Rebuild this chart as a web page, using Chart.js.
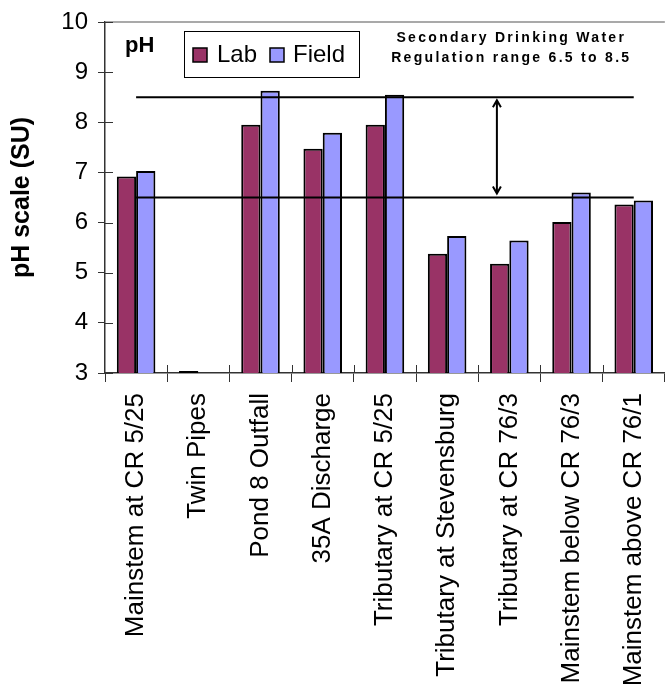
<!DOCTYPE html>
<html>
<head>
<meta charset="utf-8">
<script src="https://cdn.jsdelivr.net/npm/chart.js@4"></script>
<style>
  html, body { margin: 0; padding: 0; background: #fff; overflow: hidden; width: 671px; height: 688px; }
  #wrap { width: 676px; height: 688px; }
</style>
</head>
<body>
<div id="wrap"><canvas id="phChart" width="676" height="688"></canvas></div>
<script>
// sampling sites
const sites = [
    "Mainstem at CR 5/25", "Twin Pipes", "Pond 8 Outfall", "35A Discharge",
    "Tributary at CR 5/25", "Tributary at Stevensburg", "Tributary at CR 76/3",
    "Mainstem below CR 76/3", "Mainstem above CR 76/1"
];
const labPH   = [6.92, 3.04, 7.95, 7.47, 7.95, 5.38, 5.18, 6.01, 6.36];
const fieldPH = [7.03, null, 8.63, 7.79, 8.55, 5.73, 5.64, 6.60, 6.44];
const yTicks = [3, 4, 5, 6, 7, 8, 9, 10];
const rangeLow = 6.5, rangeHigh = 8.5;

const FONT = "'Liberation Sans', Arial, sans-serif";
const AXIS_COLOR = "#333333";

// crossing tick marks, top border, legend box, arrow and notes
const extras = {
    id: "extras",
    afterDatasetsDraw(chart) {
        const ctx = chart.ctx, a = chart.chartArea;
        const x = chart.scales.x, y = chart.scales.y;
        ctx.save();

        // top border of plot area
        ctx.strokeStyle = "#8c8c8c";
        ctx.lineWidth = 1.5;
        ctx.beginPath();
        ctx.moveTo(a.left, a.top);
        ctx.lineTo(a.right, a.top);
        ctx.stroke();

        // inner halves of tick marks
        ctx.strokeStyle = AXIS_COLOR;
        ctx.lineWidth = 1;
        yTicks.forEach(v => {
            const py = Math.round(y.getPixelForValue(v)) + 0.5;
            ctx.beginPath();
            ctx.moveTo(a.left, py);
            ctx.lineTo(a.left + 8, py);
            ctx.stroke();
        });
        for (let i = 1; i < sites.length; i++) {
            const px = Math.round(x.getPixelForValue(i - 0.5)) + 0.5;
            ctx.beginPath();
            ctx.moveTo(px, a.bottom);
            ctx.lineTo(px, a.bottom - 8);
            ctx.stroke();
        }

        // double arrow showing the regulation range
        const ax = x.getPixelForValue(5.8);
        const top = y.getPixelForValue(rangeHigh) + 3;
        const bot = y.getPixelForValue(rangeLow) - 4;
        ctx.strokeStyle = "#000";
        ctx.lineWidth = 2;
        ctx.beginPath();
        ctx.moveTo(ax, top);
        ctx.lineTo(ax, bot);
        ctx.moveTo(ax - 4, top + 7);
        ctx.lineTo(ax, top);
        ctx.lineTo(ax + 4, top + 7);
        ctx.moveTo(ax - 4, bot - 7);
        ctx.lineTo(ax, bot);
        ctx.lineTo(ax + 4, bot - 7);
        ctx.stroke();

        // regulation note
        ctx.fillStyle = "#000";
        ctx.font = "bold 14px " + FONT;
        ctx.textAlign = "center";
        ctx.textBaseline = "middle";
        ctx.letterSpacing = "2.3px";
        const nx = x.getPixelForValue(6) + 2;
        ctx.fillText("Secondary Drinking Water", nx, y.getPixelForValue(9.67));
        ctx.fillText("Regulation range 6.5 to 8.5", nx, y.getPixelForValue(9.27));
        ctx.letterSpacing = "0px";

        // pH label
        ctx.font = "bold 22px " + FONT;
        ctx.textAlign = "left";
        ctx.fillText("pH", a.left + 20, y.getPixelForValue(9.52));

        // legend
        const lx = a.left + 79, ly = a.top + 9;
        ctx.fillStyle = "#fff";
        ctx.fillRect(lx, ly, 175, 46);
        ctx.strokeStyle = "#000";
        ctx.lineWidth = 1;
        ctx.strokeRect(lx + 0.5, ly + 0.5, 175, 46);
        ctx.font = "24px " + FONT;
        const byLabel = l => chart.data.datasets.find(d => d.label === l);
        const items = [
            { ds: byLabel("Lab"), bx: lx + 9, tx: lx + 33 },
            { ds: byLabel("Field"), bx: lx + 86, tx: lx + 109 }
        ];
        items.forEach(it => {
            ctx.fillStyle = it.ds.backgroundColor;
            ctx.fillRect(it.bx, ly + 17, 14, 14);
            ctx.lineWidth = 1.5;
            ctx.strokeStyle = "#000";
            ctx.strokeRect(it.bx, ly + 17, 14, 14);
            ctx.fillStyle = "#000";
            ctx.fillText(it.ds.label, it.tx, ly + 24);
        });
        ctx.restore();
    }
};

const ctx = document.getElementById("phChart").getContext("2d");
new Chart(ctx, {
    type: "bar",
    data: {
        labels: sites,
        datasets: [
            {
                type: "line",
                label: "upper",
                data: sites.map(() => rangeHigh),
                borderColor: "#000",
                borderWidth: 2,
                pointRadius: 0,
                fill: false,
                order: 0
            },
            {
                type: "line",
                label: "lower",
                data: sites.map(() => rangeLow),
                borderColor: "#000",
                borderWidth: 2,
                pointRadius: 0,
                fill: false,
                order: 0
            },
            {
                label: "Lab",
                data: labPH,
                backgroundColor: "#993366",
                borderColor: "#000",
                borderWidth: 2,
                order: 1
            },
            {
                label: "Field",
                data: fieldPH,
                backgroundColor: "#9999FF",
                borderColor: "#000",
                borderWidth: 2,
                order: 1
            }
        ]
    },
    options: {
        responsive: false,
        animation: false,
        datasets: { bar: { categoryPercentage: 0.62, barPercentage: 1.0 } },
        layout: { padding: { top: 19, right: 1, left: 0, bottom: 0 } },
        scales: {
            x: {
                grid: {
                    offset: true,
                    drawOnChartArea: false,
                    tickLength: 9,
                    color: AXIS_COLOR
                },
                border: { display: true, color: AXIS_COLOR, width: 1.5 },
                ticks: {
                    minRotation: 90,
                    maxRotation: 90,
                    autoSkip: false,
                    padding: 11,
                    color: "#000",
                    font: { family: FONT, size: 26 }
                },
                afterFit(scale) { scale.height = 315; }
            },
            y: {
                min: 3,
                max: 10,
                ticks: {
                    stepSize: 1,
                    padding: 10,
                    color: "#000",
                    font: { family: FONT, size: 24, lineHeight: 1 }
                },
                grid: {
                    drawOnChartArea: false,
                    tickLength: 7,
                    color: AXIS_COLOR
                },
                border: { display: true, color: AXIS_COLOR, width: 1.5 },
                title: {
                    display: true,
                    text: "pH scale (SU)",
                    color: "#000",
                    font: { family: FONT, size: 25, weight: "bold" },
                    padding: { top: 7, bottom: 0 }
                },
                afterFit(scale) { scale.width = 105; }
            }
        },
        plugins: {
            legend: { display: false },
            tooltip: { enabled: false }
        }
    },
    plugins: [extras]
});
</script>
</body>
</html>
